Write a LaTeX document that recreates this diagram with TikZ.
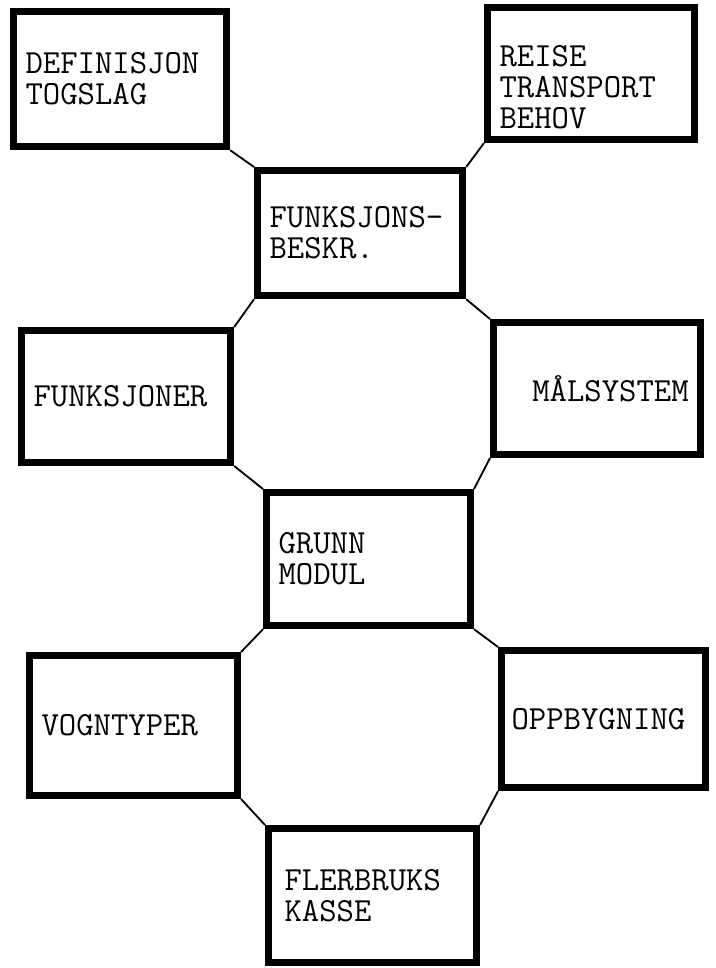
\documentclass[tikz,border=0pt]{standalone}
\usetikzlibrary{positioning}

\begin{document}
\begin{tikzpicture}[
  every node/.style={font=\ttfamily\fontsize{24}{22}\selectfont},
  modul/.style={draw=black,line width=5pt,anchor=north west,align=left,inner xsep=0.3cm,text width=4.6cm,minimum height=3.3cm},
  link/.style={line width=1.3pt}]
\useasboundingbox (0,0) rectangle (17.875,-24.2);
\node[modul,text width=4.73cm,minimum height=3.38cm] (def) at (0.25,-0.2) {DEFINISJON\\TOGSLAG};
\node[modul,text width=4.58cm] (reise) at (12.1,-0.1) {\raisebox{0pt}[1.2cm]{REISE}\\TRANSPORT\\BEHOV};
\node[modul,text width=4.53cm,minimum height=3.13cm] (fbeskr) at (6.35,-4.175) {FUNKSJONS-\\BESKR.};
\node[modul,text width=4.63cm] (funk) at (0.45,-8.175) {FUNKSJONER};
\node[modul,text width=4.58cm,align=right] (mal) at (12.25,-7.975) {MÅLSYSTEM};
\node[modul,text width=4.5cm,minimum height=3.33cm] (grunn) at (6.575,-12.225) {GRUNN\\MODUL};
\node[modul,minimum height=3.5cm] (vogn) at (0.65,-16.3) {VOGNTYPER};
\node[modul,inner xsep=0.25cm,minimum height=3.43cm] (oppb) at (12.45,-16.175) {OPPBYGNING};
\node[modul,inner xsep=0.4cm,text width=4.4cm,minimum height=3.35cm] (fler) at (6.625,-20.625) {FLERBRUKS\\KASSE};
\draw[link] (def.south east) -- (fbeskr.north west);
\draw[link] (reise.south west) -- (fbeskr.north east);
\draw[link] (fbeskr.south west) -- (funk.north east);
\draw[link] (fbeskr.south east) -- (mal.north west);
\draw[link] (funk.south east) -- (grunn.north west);
\draw[link] (mal.south west) -- (grunn.north east);
\draw[link] (grunn.south west) -- (vogn.north east);
\draw[link] (grunn.south east) -- (oppb.north west);
\draw[link] (vogn.south east) -- (fler.north west);
\draw[link] (oppb.south west) -- (fler.north east);
\end{tikzpicture}
\end{document}
